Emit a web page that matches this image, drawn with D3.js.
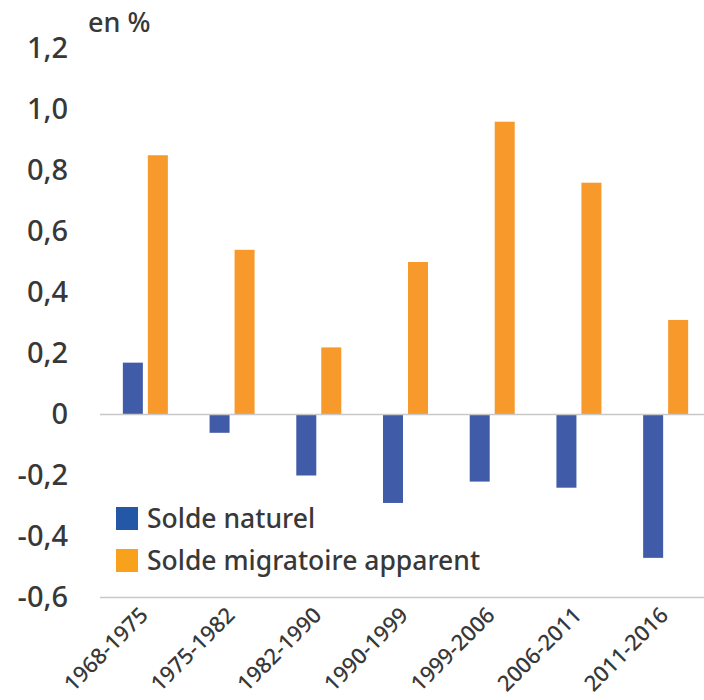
<!DOCTYPE html>
<html>
<head>
    <meta charset="utf-8">
    <script src="https://d3js.org/d3.v7.min.js"></script>
    <style>
        body {
            margin: 0;
            background: #fff;
            font-family: "Noto Sans", sans-serif;
            font-weight: 500;
        }
        .tick text {
            fill: #383838;
        }
    </style>
</head>
<body>
    <div id="chart"></div>
    <script>
        const periods = ["1968-1975", "1975-1982", "1982-1990", "1990-1999", "1999-2006", "2006-2011", "2011-2016"];
        const soldeNaturel = [0.17, -0.06, -0.20, -0.29, -0.22, -0.24, -0.47];
        const soldeMigratoire = [0.85, 0.54, 0.22, 0.50, 0.96, 0.76, 0.31];
        const seriesNames = ["Solde naturel", "Solde migratoire apparent"];
        const yTicks = [-0.6, -0.4, -0.2, 0, 0.2, 0.4, 0.6, 0.8, 1.0, 1.2];

        const width = 704, height = 700;
        const barColors = ["#405ca9", "#f7992b"];
        const legendColors = ["#2457a6", "#f7a11c"];
        const textColor = "#383838";

        const svg = d3.select("#chart").append("svg")
            .attr("width", width)
            .attr("height", height);

        const x = d3.scaleBand().domain(periods).range([102, 709]);
        const xSub = d3.scaleBand().domain(seriesNames).range([0, 45]).paddingInner(0.2);
        const y = d3.scaleLinear().domain([-0.6, 1.2]).range([597.5, 48.5]);

        const locale = d3.formatLocale({decimal: ",", thousands: " ", grouping: [3], currency: ["", "€"], minus: "-"});
        const fmt = locale.format(".1f");

        // y axis labels
        svg.append("g")
            .attr("transform", "translate(75,0)")
            .call(d3.axisLeft(y).tickValues(yTicks).tickSize(0).tickPadding(7)
                .tickFormat(d => Math.abs(d) < 1e-9 ? "0" : fmt(d)))
            .call(g => g.select(".domain").remove())
            .selectAll("text")
            .style("font-family", "'Noto Sans', sans-serif")
            .style("font-size", "29px");

        svg.append("text")
            .attr("x", 88)
            .attr("y", 32)
            .style("font-size", "27px")
            .style("fill", textColor)
            .text("en %");

        // bars
        const data = periods.map((p, i) => ({period: p, values: [soldeNaturel[i], soldeMigratoire[i]]}));
        const groups = svg.append("g").selectAll("g")
            .data(data)
            .enter().append("g")
            .attr("transform", d => "translate(" + (x(d.period) + x.bandwidth() / 2 - 22.5) + ",0)");

        groups.selectAll("rect")
            .data(d => d.values.map((v, k) => ({name: seriesNames[k], value: v, k: k})))
            .enter().append("rect")
            .attr("x", d => xSub(d.name))
            .attr("width", xSub.bandwidth())
            .attr("y", d => y(Math.max(0, d.value)))
            .attr("height", d => Math.abs(y(d.value) - y(0)))
            .attr("fill", d => barColors[d.k]);

        // zero line and bottom line
        [0, -0.6].forEach(v => {
            svg.append("line")
                .attr("x1", 100).attr("x2", width)
                .attr("y1", y(v)).attr("y2", y(v))
                .attr("stroke", "#c8c8c8")
                .attr("stroke-width", 1.5);
        });

        // x axis labels
        svg.append("g")
            .attr("transform", "translate(0," + y(-0.6) + ")")
            .call(d3.axisBottom(x).tickSize(0).tickPadding(0))
            .call(g => g.select(".domain").remove())
            .selectAll("text")
            .style("font-family", "'Noto Sans', sans-serif")
            .style("font-size", "22px")
            .style("text-anchor", "end")
            .attr("dx", "0")
            .attr("dy", "0")
            .attr("transform", "translate(4,19) rotate(-45)");

        // legend
        const legend = svg.append("g").selectAll("g")
            .data(seriesNames)
            .enter().append("g")
            .attr("transform", (d, i) => "translate(116," + (507 + i * 42) + ")");

        legend.append("rect")
            .attr("width", 22)
            .attr("height", 23)
            .attr("fill", (d, i) => legendColors[i]);

        legend.append("text")
            .attr("x", 31)
            .attr("y", 21)
            .style("font-size", "26.5px")
            .style("fill", textColor)
            .text(d => d);
    </script>
</body>
</html>
